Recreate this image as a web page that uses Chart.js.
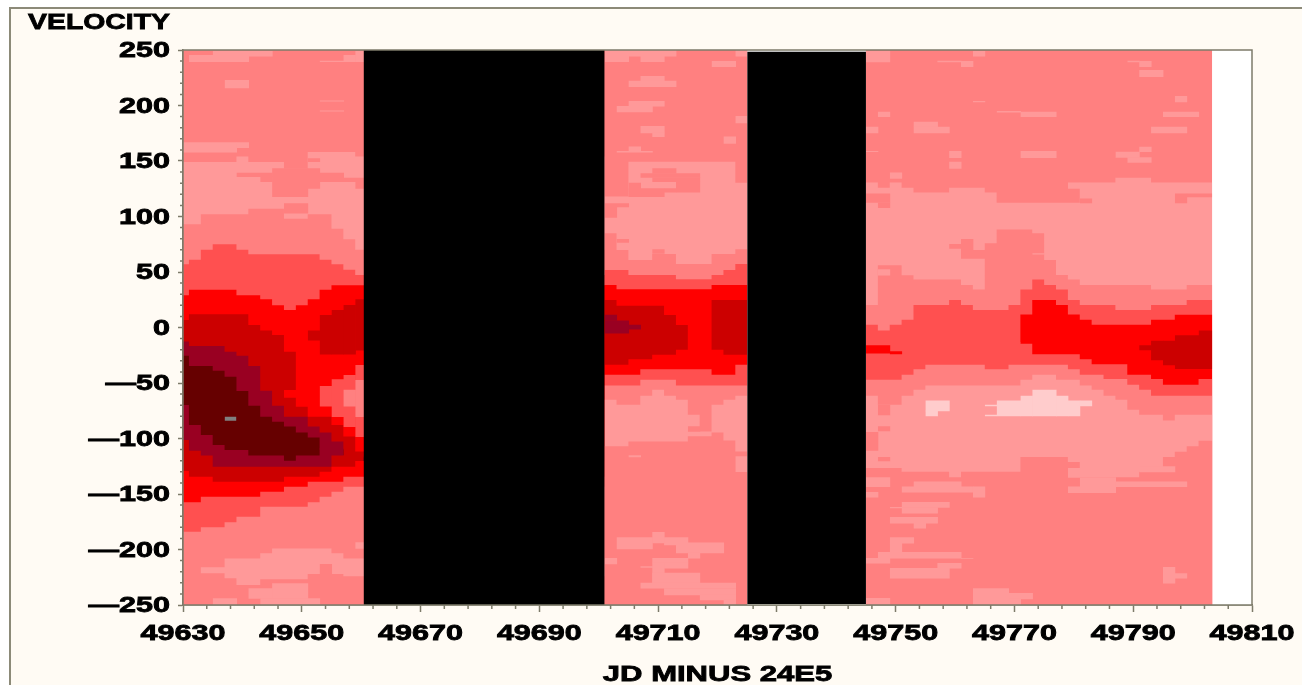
<!DOCTYPE html>
<html>
<head>
<meta charset="utf-8">
<title>Velocity map</title>
<script src="https://cdn.jsdelivr.net/npm/chart.js@4"></script>
<style>
  html, body { margin: 0; padding: 0; background: #ffffff; overflow: hidden; }
  #frame { position: absolute; left: 9px; top: 7px; width: 1293px; height: 678px; background: #fffbf4;
           border-left: 2px solid #8c8a78; border-top: 2px solid #8c8a78; box-sizing: border-box; }
  #wrap { position: absolute; left: 0; top: 0; width: 1302px; height: 685px; }
</style>
</head>
<body>
<div id="frame"></div>
<div id="wrap"><canvas id="velocityMap" width="1302" height="685"></canvas></div>
<script>
// tick labels
const xTicks = [49630, 49650, 49670, 49690, 49710, 49730, 49750, 49770, 49790, 49810];
const yTicks = [250, 200, 150, 100, 50, 0, -50, -100, -150, -200, -250];
const xMinor = [49634, 49638, 49642, 49646, 49654, 49658, 49662, 49666, 49674, 49678, 49682, 49686, 49694, 49698, 49702, 49706, 49714, 49718, 49722, 49726, 49734, 49738, 49742, 49746, 49754, 49758, 49762, 49766, 49774, 49778, 49782, 49786, 49794, 49798, 49802, 49806];
const yMinor = [240, 230, 220, 210, 190, 180, 170, 160, 140, 130, 120, 110, 90, 80, 70, 60, 40, 30, 20, 10, -10, -20, -30, -40, -60, -70, -80, -90, -110, -120, -130, -140, -160, -170, -180, -190, -210, -220, -230, -240];

// observed span: last column of the map and the end of each dark feature
const lastDay = 49803.3;
const firstGapStart = 49660.4;
const secondGapStart = 49725;

// band boundaries, [day, velocity], value holds until the next day listed
const lightTop = [[49630,149],[49639,154],[49641,149],[49647,143],[49651,158],[49659,154],
  [49701,118],[49705,149.4],[49723,130.5],
  [49745,130.7],[49747,126],[49749,130.7],[49751,126],[49753,121.7],[49759,126],[49765,121.7],[49767,112.4],[49781,130.7],[49787,135],[49793,130.7]];
const lightBottom = [[49630,93],[49633,102],[49641,107],[49647,98],[49651,102],[49655,89],[49657,79.4],[49659,70],
  [49701,84.8],[49703,69.8],[49705,60.8],[49709,66.2],[49713,57.2],[49719,66.2],[49723,70.4],
  [49745,20.2],[49747,56],[49751,47],[49753,43.3],[49761,38.2],[49763,34.3],[49765,75.8],[49767,88.4],[49773,84.8],[49775,60.8],[49777,47.3],[49779,43.3],[49781,38.2],[49793,34.3],[49799,38.2]];
const midTop = [[49630,57],[49631,61],[49633,70],[49635,75],[49639,70],[49641,66],[49653,61],[49655,57],[49657,52],[49659,47.3],
  [49701,51.8],[49705,47.3],[49713,43.4],[49719,47.3],[49721,51.8],[49723,57.2],
  [49745,2.5],[49747,-2.6],[49749,2.5],[49751,7],[49753,20.2],[49759,24.7],[49761,20.2],[49763,15.7],[49769,20.2],[49771,34.3],[49773,43.3],[49775,38.2],[49777,34.3],[49779,24.7],[49781,20.2],[49787,15.7],[49793,20.2],[49799,24.7]];
const redTop = [[49630,29],[49631,34],[49639,29],[49643,25.4],[49645,20],[49647,15.8],[49649,20],[49651,25.4],[49653,34],[49655,38],
  [49701,38.3],[49703,34.4],[49719,38.3],
  [49745,-14.6],[49771,11.8],[49773,24.7],[49777,20.2],[49779,11.8],[49781,7],[49783,2.5],[49793,7],[49797,11.5]];
const darkTop = [[49630,6.8],[49631,11.9],[49641,2.3],[49643,-2.8],[49645,-6.7],[49647,-21.8],[49649,-71.3],[49651,-80.3],[49655,-87.8],[49657,-98.3],[49659,-111.8],
  [49701,24.8],[49703,19.7],[49711,11.3],[49713,2.2],[49715,-21],[49719,24.8]];
const crimsonTop = [[49630,-12.7],[49631,-16.6],[49637,-21.8],[49639,-25.4],[49641,-34.7],[49643,-57],[49645,-70.4],[49647,-80.3],[49651,-89.3],[49653,-94.7],[49655,-102.8],[49657,-118]];
const maroonTop = [[49630,-25.4],[49631,-34.7],[49635,-38.9],[49637,-44.3],[49639,-57.2],[49641,-70.4],[49643,-80.3],[49645,-84.8],[49647,-89.3],[49649,-94.7],[49651,-99.2],[49653,-110],[49657,-117]];
const maroonBottom = [[49630,-69.8],[49631,-87.8],[49633,-96.8],[49635,-105.8],[49637,-110.3],[49641,-115.4],[49647,-120],[49649,-115.4],[49653,-109],[49657,-116]];
const crimsonBottom = [[49630,-101.3],[49631,-111],[49633,-115.4],[49635,-125.4],[49655,-115.4],[49657,-115]];
const darkBottom = [[49630,-129.3],[49631,-134.4],[49635,-138.9],[49647,-134.4],[49653,-129.9],[49655,-125.4],[49659,-120.3],
  [49701,-33.6],[49705,-28.5],[49709,-24.5],[49713,-20],[49721,-24.5]];
const redBottom = [[49630,-157.5],[49633,-152.4],[49643,-147.9],[49647,-143.4],[49651,-138.9],[49657,-134.4],
  [49701,-42.6],[49707,-37.5],[49719,-42.6],[49723,-33.6],
  [49745,-13],[49771,-14.6],[49773,-24],[49781,-28.5],[49783,-33],[49789,-42.6],[49793,-46.5],[49795,-51.6],[49801,-46.5]];
const midBottom = [[49630,-184],[49633,-180],[49637,-175.5],[49639,-170.4],[49643,-161.4],[49651,-157.5],[49653,-152.4],[49655,-147.9],[49657,-143.4],
  [49701,-52.2],[49707,-47],[49713,-52.2],
  [49745,-47],[49751,-42.6],[49753,-37.5],[49755,-33.6],[49765,-37.5],[49769,-33.6],[49779,-37.5],[49781,-42.6],[49785,-46.5],[49789,-51.6],[49791,-56],[49793,-61.5]];
const lowTop = [[49630,-216],[49637,-208],[49643,-203.4],[49645,-199],[49655,-203.4],[49657,-208],
  [49701,-65],[49703,-69.6],[49707,-61.5],[49709,-56],[49711,-61.5],[49713,-65],[49715,-78.6],[49717,-93.6],[49719,-69.6],[49721,-65],[49723,-61.5],
  [49745,-61.5],[49747,-69.6],[49751,-61.5],[49753,-56],[49755,-52.2],[49771,-47],[49773,-42.6],[49777,-47],[49781,-52.2],[49783,-56],[49785,-61.5],[49787,-65],[49789,-74],[49791,-78.6],[49795,-83.7],[49797,-78.6]];
const lowBottom = [[49630,-215],[49633,-221.5],[49637,-226],[49639,-232],[49643,-226.8],[49651,-222],[49657,-224],
  [49701,-107],[49705,-102.6],[49715,-98],[49719,-94.5],[49721,-101.7],[49723,-111.6],
  [49745,-126.6],[49751,-130],[49759,-135],[49761,-130],[49771,-116.7],[49779,-121.2],[49781,-135],[49791,-130],[49795,-116.7],[49797,-112],[49799,-107],[49801,-102]];

// isolated cells, [first day, last day, upper velocity, lower velocity]
const lightCells = [
  [49630,49639,167,158],[49639,49641,167,162],[49635,49645,249,244.6],[49631,49641,245.5,239.5],[49657,49659,245.5,239.5],[49659,49660.4,249,239.5],[49653,49657,240.3,239.5],[49637,49641,223,216],[49653,49657,204.5,204],[49653,49657,195.5,195],
  [49641,49645,-235,-244],[49645,49651,-230.5,-244],[49643,49653,-244,-250],[49635,49639,-244,-250],[49659,49660.4,-193.5,-199],
  [49701,49713,250,244.6],[49701,49705,244.6,239.5],[49707,49711,244.6,239.5],[49723,49725,250,244.6],[49719,49723,240,235],[49707,49711,226.6,222.4],[49705,49713,222.4,217],[49705,49711,204,199.5],[49703,49709,199.5,194.4],[49723,49725,190.5,184.5],[49707,49711,181.5,175.5],[49709,49711,175.5,172],[49721,49723,172,166],[49705,49707,163,159],[49703,49709,159,158],
  [49703,49709,-189,-199.3],[49709,49711,-184.3,-194],[49711,49715,-189,-195.7],[49713,49721,-193.6,-203],[49715,49717,-203,-207.7],[49701,49703,-207.7,-212.8],[49709,49715,-207.7,-212],[49709,49711,-212,-230],[49707,49709,-215,-216],[49711,49715,-212,-216.7],[49709,49717,-221,-230],[49707,49723,-230,-234.8],[49711,49723,-234.8,-240.8],[49717,49723,-240.8,-245.3],[49721,49723,-245.3,-249.8],[49723,49725,-116,-129.7],[49705,49707,-115,-116.5],
  [49745,49749,249,239.4],[49763,49765,249,244.5],[49757,49761,240.3,239.4],[49761,49763,240,235],[49791,49793,240,235],[49789,49791,240.3,239.4],[49791,49795,232,226],[49797,49799,208.5,203.4],[49763,49765,204,203.4],[49747,49749,194.4,190],[49767,49771,195,194],[49771,49777,194.4,190],[49795,49801,194.4,190],[49745,49747,180.9,175.5],[49753,49757,185.4,180.9],[49753,49759,180.9,175.5],[49793,49799,180.9,175.5],[49745,49747,159,158.4],[49759,49761,159,153],[49771,49777,159,153],[49787,49791,158.4,153.3],[49789,49793,153.3,148.8],[49791,49793,162.9,158.4],[49759,49761,149.4,143.4],[49749,49751,139.7,134.3],[49779,49781,130.7,125.3],[49773,49775,66.8,66.2],[49747,49749,52.4,47.3],
  [49779,49781,-126.6,-135],[49781,49787,-135,-148.6],[49779,49781,-143.2,-148.6],[49787,49799,-138.7,-143.2],[49745,49749,-134.8,-143.2],[49745,49747,-148.3,-152.8],[49753,49761,-138.7,-143.2],[49751,49763,-143.2,-148.3],[49763,49765,-143.2,-152.8],[49751,49759,-157.3,-162],[49751,49757,-162,-167.2],[49749,49751,-161.8,-162.4],[49749,49757,-170.8,-176.2],[49753,49755,-176.2,-180.7],[49749,49753,-189,-194.2],[49749,49751,-194.2,-203.2],[49747,49761,-202.3,-207.7],[49745,49749,-207.7,-212.2],[49761,49763,-207.7,-208],[49757,49761,-212.2,-216.7],[49749,49759,-216.7,-225.8],[49763,49769,-234.8,-249.8],[49769,49773,-239.3,-244.4],[49769,49771,-244.4,-249.8],[49745,49749,-243.8,-250],[49795,49797,-215.8,-230.3],[49797,49799,-221.3,-225.8],[49791,49797,-125,-130]
];
const baseCells = [
  [49645,49651,143.4,118],[49639,49645,139.5,136],[49643,49645,136,131.4],[49651,49653,143.4,125.4],[49651,49653,152.4,149.4],[49653,49657,139.5,131.4],[49657,49660.4,135,131.4],[49659,49660.4,131.4,125.4],[49647,49651,112,103],[49653,49655,-213,-222],
  [49709,49713,143.4,138.9],[49707,49717,138.9,135.3],[49709,49717,135.3,131.4],[49713,49717,131.4,122],[49711,49713,125.4,122],[49705,49707,130.5,118],[49705,49711,125.4,118],[49701,49705,111.9,108.8],[49701,49703,108.8,99.2],[49703,49705,79.7,76.7],[49709,49711,70.4,66.8],[49715,49717,-89,-93.6],
  [49745,49749,120.8,112.7],[49747,49749,112.7,108],[49797,49799,120.8,112.4],[49799,49803.3,120.8,117.8],[49781,49783,116.3,112.4],[49761,49763,79.7,69.8],[49759,49761,75.2,71.3],[49761,49765,69.8,62.3],[49747,49749,-69.6,-78.6],[49747,49749,-89,-93],[49745,49747,-94.2,-110.7],[49747,49749,-116.7,-120]
];
const midCells = [[49653,49655,-52.7,-70.7],[49655,49657,-46.7,-80.3],[49657,49659,-42.8,-89.3],[49659,49660.4,-33.8,-98.3]];
const holeCells = [[49657,49659,-56,-70.7],[49659,49660.4,-47.3,-80.3]];
const redCells = [[49647,49649,-56.3,-63],[49745,49749,-16.1,-23],[49749,49751,-21.5,-23.6]];
const darkCells = [[49651,49653,-2.8,-11.2],[49653,49655,11.3,-24],[49655,49657,15.8,-24],[49657,49659,20.3,-24],[49659,49660.4,25.4,-20.3],
  [49791,49793,-16,-20],[49793,49795,-12,-29],[49795,49797,-12,-33.6],[49797,49801,-7,-37],[49801,49803.3,-2.6,-37]];
const crimsonCells = [[49701,49703,11.5,6.4],[49701,49705,6.4,-5],[49705,49707,2.5,-1.4]];
const paleCells = [[49755,49759,-65.7,-75],[49755,49757,-75,-79.5],[49767,49771,-65.7,-79.5],[49771,49773,-61.5,-79.5],[49773,49777,-56,-79.5],[49777,49779,-61.5,-79.5],[49779,49781,-65.7,-79.5],[49781,49783,-65.7,-70.5],[49765,49767,-69.6,-70.5],[49765,49767,-78.6,-79.5]];
const greyCells = [[49637,49639,-80.3,-84]];
const whiteCells = [[49725,49745,250,-250]];
const blackCells = [[49660.4,49701,250,-250],[49725,49745,248.5,-249]];

const BASE = "#ff8080", LIGHT = "#ff9999", MID = "#ff5050", RED = "#ff0000", DARK = "#cc0000",
  CRIMSON = "#990022", MAROON = "#660000", PALE = "#ffcccc", AXIS = "#7d7b6a";

// a boundary paints its colour from itself all the way down, later ones paint over it
function band(points, color, endDay) {
  const last = points[points.length - 1];
  const data = points.concat([[endDay, last[1]]]).map((p) => ({ x: p[0], y: p[1] }));
  return { data: data, stepped: true, fill: "start", backgroundColor: color, borderColor: "transparent", borderWidth: 0, pointRadius: 0 };
}

// neighbouring cells overlap a hair so antialiasing leaves no seam between them
function cells(list, color, overlap) {
  const o = overlap === undefined ? 1 : overlap;
  return list.map((c) => {
    const end = c[1] >= lastDay ? c[1] : c[1] + 0.12 * o;
    return {
      data: [{ x: c[0], y: c[2] }, { x: end, y: c[2] }],
      fill: { value: c[3] - 0.4 * o },
      backgroundColor: color,
      borderColor: "transparent",
      borderWidth: 0,
      pointRadius: 0,
    };
  });
}

const layers = [
  ...cells([[49630, 49810, 250, -250]], "#ffffff", 0),
  band([[49630, 250]], BASE, lastDay),
  band(lightTop, LIGHT, lastDay),
  band(lightBottom, BASE, lastDay),
  band(midTop, MID, lastDay),
  band(redTop, RED, lastDay),
  band(darkTop, DARK, secondGapStart),
  band(crimsonTop, CRIMSON, firstGapStart),
  band(maroonTop, MAROON, firstGapStart),
  band(maroonBottom, CRIMSON, firstGapStart),
  band(crimsonBottom, DARK, firstGapStart),
  band(darkBottom, RED, secondGapStart),
  band(redBottom, MID, lastDay),
  band(midBottom, BASE, lastDay),
  band(lowTop, LIGHT, lastDay),
  band(lowBottom, BASE, lastDay),
  ...cells(lightCells, LIGHT),
  ...cells(baseCells, BASE),
  ...cells(midCells, MID),
  ...cells(holeCells, BASE),
  ...cells(redCells, RED),
  ...cells(darkCells, DARK),
  ...cells(crimsonCells, CRIMSON),
  ...cells(paleCells, PALE),
  ...cells(greyCells, "#808080", 0),
  ...cells(whiteCells, "#ffffff", 0),
  ...cells(blackCells, "#000000", 0),
];
// chart.js paints the first dataset last
layers.reverse();

function wideText(ctx, text, x, y, align, stretch) {
  ctx.save();
  ctx.translate(x, y);
  ctx.scale(stretch, 1);
  ctx.textAlign = align;
  ctx.textBaseline = "middle";
  ctx.lineWidth = 0.8;
  ctx.strokeStyle = "#000000";
  ctx.strokeText(text, 0, 0);
  ctx.fillText(text, 0, 0);
  ctx.restore();
}

// SAS style axes: minor ticks, closed box and wide bold lettering
const sasAxes = {
  id: "sasAxes",
  afterDraw(chart) {
    const ctx = chart.ctx;
    const area = chart.chartArea;
    const x = chart.scales.x;
    const y = chart.scales.y;
    ctx.save();
    ctx.strokeStyle = AXIS;
    ctx.lineWidth = 1.5;
    ctx.strokeRect(area.left, area.top, area.right - area.left, area.bottom - area.top);
    ctx.beginPath();
    xMinor.forEach((v) => {
      const px = x.getPixelForValue(v);
      ctx.moveTo(px, area.bottom);
      ctx.lineTo(px, area.bottom + 4);
    });
    yMinor.forEach((v) => {
      const py = y.getPixelForValue(v);
      ctx.moveTo(area.left, py);
      ctx.lineTo(area.left - 3, py);
    });
    ctx.stroke();

    ctx.fillStyle = "#000000";
    ctx.font = "bold 21.5px 'Liberation Sans'";
    xTicks.forEach((v) => wideText(ctx, String(v), x.getPixelForValue(v), 634, "center", 1.42));
    yTicks.forEach((v) => {
      const label = String(v).replace("-", "\u2014");
      wideText(ctx, label, 170, y.getPixelForValue(v) + 1.5, "right", 1.42);
    });
    ctx.font = "bold 22px 'Liberation Sans'";
    wideText(ctx, "VELOCITY", 170, 23, "right", 1.29);
    wideText(ctx, "JD MINUS 24E5", (area.left + area.right) / 2, 675, "center", 1.41);
    ctx.restore();
  },
};

document.addEventListener("DOMContentLoaded", function () {
  const ctx = document.getElementById("velocityMap");
  new Chart(ctx, {
    type: "line",
    data: { datasets: layers },
    plugins: [sasAxes],
    options: {
      responsive: false,
      animation: false,
      layout: { padding: { top: 50, right: 50 } },
      plugins: { legend: { display: false }, tooltip: { enabled: false } },
      scales: {
        x: {
          type: "linear",
          min: 49630,
          max: 49810,
          afterBuildTicks: (s) => { s.ticks = xTicks.map((v) => ({ value: v })); },
          afterFit: (s) => { s.height = 80; },
          ticks: { display: false },
          grid: { drawOnChartArea: false, tickLength: 7, tickColor: AXIS, tickWidth: 1.5 },
          border: { color: AXIS, width: 1.5 },
        },
        y: {
          min: -250,
          max: 250,
          afterBuildTicks: (s) => { s.ticks = yTicks.map((v) => ({ value: v })); },
          afterFit: (s) => { s.width = 183; },
          ticks: { display: false },
          grid: { drawOnChartArea: false, tickLength: 5, tickColor: AXIS, tickWidth: 1.5 },
          border: { color: AXIS, width: 1.5 },
        },
      },
    },
  });
});
</script>
</body>
</html>
